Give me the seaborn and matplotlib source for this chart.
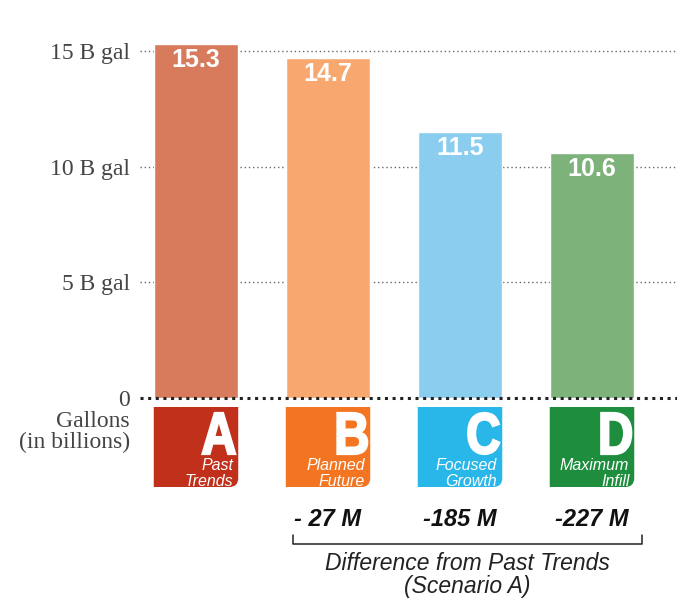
import numpy as np
import pandas as pd
import matplotlib
matplotlib.use("Agg")
import matplotlib.pyplot as plt
import seaborn as sns
from matplotlib.path import Path
from matplotlib.patches import PathPatch
from matplotlib.textpath import TextPath
from matplotlib.font_manager import FontProperties
from matplotlib.transforms import Affine2D

# ---- data ----
scenarios = ["A", "B", "C", "D"]
scenario_names = ["Past\nTrends", "Planned\nFuture", "Focused\nGrowth", "Maximum\nInfill"]
values = [15.3, 14.7, 11.5, 10.6]
value_labels = ["15.3", "14.7", "11.5", "10.6"]
differences = ["", "- 27 M", "-185 M", "-227 M"]
ytick_values = [0, 5, 10, 15]
ytick_labels = ["0", "5 B gal", "10 B gal", "15 B gal"]

bar_colors = ["#D77B5C", "#F8A86E", "#8BCDEF", "#7DB27A"]
badge_colors = ["#C0301B", "#F47521", "#29B6E9", "#1E8E3E"]

sns.set_style("white")
plt.rcParams["font.family"] = ["Liberation Sans", "DejaVu Sans"]

df = pd.DataFrame({"scenario": scenarios, "value": values})

W, H = 677, 600
fig = plt.figure(figsize=(W / 100, H / 100), dpi=100)
x0_px, base_px, top_px = 140, 397.5, 20
ax = fig.add_axes([x0_px / W, (H - base_px) / H, (W - x0_px) / W, (base_px - top_px) / H])

sns.barplot(data=df, x="scenario", y="value", hue="scenario", palette=bar_colors,
            dodge=False, width=0.64, legend=False, ax=ax, zorder=3, saturation=1)

px_per_x = 132.0
px_per_y = 23.1
xmin = -(196 - x0_px) / px_per_x
xmax = xmin + (W - x0_px) / px_per_x
ax.set_xlim(xmin, xmax)
ax.set_ylim(0, (base_px - top_px) / px_per_y)

def ypix(p):
    return (base_px - p) / px_per_y

# gridlines
for v in ytick_values[1:]:
    ax.axhline(v, color="#666666", linestyle=(0, (1, 2)), lw=1.0, zorder=1)
ax.axhline(0, color="#222222", linestyle=(0, (1, 1.5)), lw=2.2, zorder=4, clip_on=False)

for s in ax.spines.values():
    s.set_visible(False)
ax.set_xticks([])
ax.set_xlabel("")
ax.set_ylabel("")
ax.set_yticks(ytick_values)
ax.set_yticklabels(ytick_labels, family=["Liberation Serif", "DejaVu Serif"],
                   fontsize=17, color="#444444")
ax.tick_params(axis="y", length=0, pad=7)

# value labels
for i, (v, lab) in enumerate(zip(values, value_labels)):
    ax.text(i, v - 16 / px_per_y, lab, ha="center", va="center", color="white",
            fontsize=18, fontweight="bold", zorder=5)

# badges
bw = 0.64
r_x = 9 / px_per_x
r_y = 9 / px_per_y
btop, bbot = ypix(407), ypix(487)
letter_prop = FontProperties(family="Liberation Sans", weight="bold")
cap_px = 41.0
squeeze = 0.82
for i, (c, name, letter) in enumerate(zip(badge_colors, scenario_names, scenarios)):
    l, rgt = i - bw / 2, i + bw / 2
    verts = [(l, btop), (rgt, btop), (rgt, bbot + r_y), (rgt, bbot), (rgt - r_x, bbot),
             (l, bbot), (l, btop)]
    codes = [Path.MOVETO, Path.LINETO, Path.LINETO, Path.CURVE3, Path.CURVE3,
             Path.LINETO, Path.CLOSEPOLY]
    ax.add_patch(PathPatch(Path(verts, codes), facecolor=c, edgecolor="none",
                           clip_on=False, zorder=3))
    # condensed big letter
    tp = TextPath((0, 0), letter, size=1, prop=letter_prop)
    ext = tp.get_extents()
    sy = cap_px / ext.height / px_per_y
    sx = cap_px * squeeze / ext.height / px_per_x
    tr = (Affine2D().translate(-ext.x1, -ext.y1).scale(sx, sy)
          .translate(rgt - 3 / px_per_x, ypix(413)))
    ax.add_patch(PathPatch(tr.transform_path(tp), facecolor="white", edgecolor="white",
                           linewidth=1.6, joinstyle="miter", clip_on=False, zorder=5))
    ax.text(rgt - 5 / px_per_x, ypix(489), name, ha="right", va="bottom", color="white",
            fontsize=11.5, style="italic", linespacing=1.1, clip_on=False, zorder=5)

# left label
ax.text(xmin - 10 / px_per_x, ypix(432), "Gallons\n(in billions)", ha="right", va="center",
        family=["Liberation Serif", "DejaVu Serif"], fontsize=17, color="#444444",
        linespacing=0.95, clip_on=False)

# differences
for i, d in enumerate(differences):
    if d:
        ax.text(i, ypix(520), d, ha="center", va="center", fontsize=17,
                fontweight="bold", style="italic", color="#111111", clip_on=False)

# bracket
bl, br = 1 - 35 / px_per_x, 3 + 50 / px_per_x
ax.plot([bl, bl, br, br], [ypix(535), ypix(544), ypix(544), ypix(535)],
        color="#222222", lw=1.1, clip_on=False)
mid = (bl + br) / 2
ax.text(mid, ypix(563), "Difference from Past Trends", ha="center", va="center",
        fontsize=16.5, style="italic", color="#222222", clip_on=False)
ax.text(mid, ypix(587), "(Scenario A)", ha="center", va="center",
        fontsize=16.5, style="italic", color="#222222", clip_on=False)

fig.savefig("out.png", dpi=100)
